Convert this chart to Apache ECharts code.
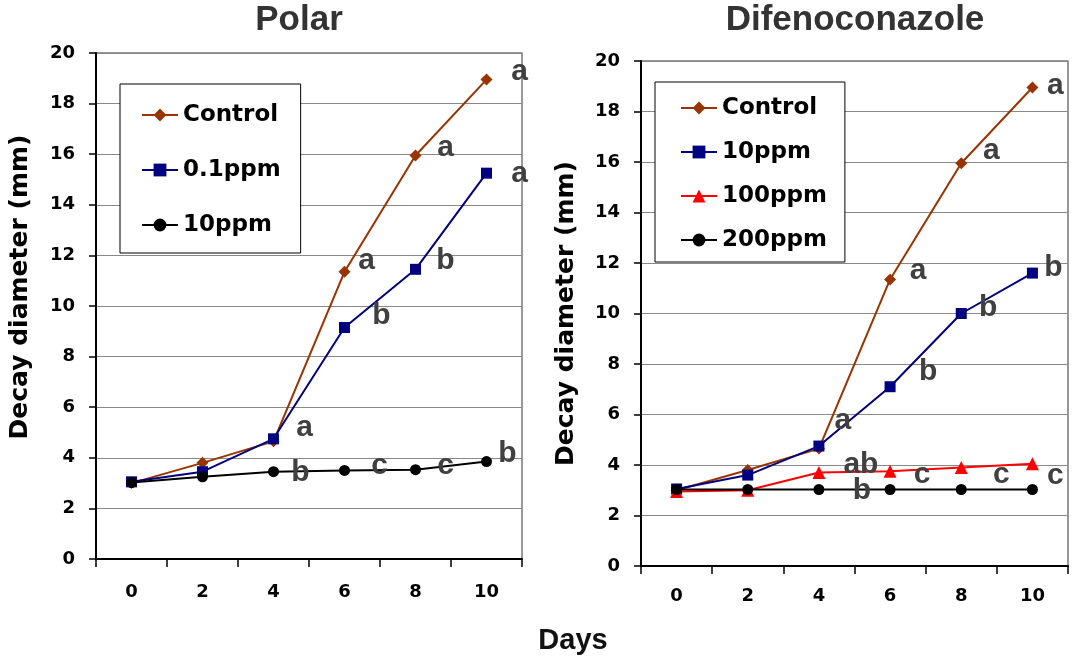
<!DOCTYPE html>
<html>
<head>
<meta charset="utf-8">
<script src="https://cdn.jsdelivr.net/npm/echarts@6/dist/echarts.min.js"></script>
<style>
  html, body { margin: 0; padding: 0; background: #fff; }
  #chart { width: 1076px; height: 661px; }
</style>
</head>
<body>
<div id="chart"></div>
<script>
// ---- data ----
var days = ['0', '2', '4', '6', '8', '10'];

var polarControl = [3.0, 3.8, 4.65, 11.35, 15.95, 18.95];
var polarLow     = [3.05, 3.45, 4.75, 9.15, 11.45, 15.25];
var polarHigh    = [3.02, 3.25, 3.45, 3.5, 3.53, 3.85];

var difControl = [3.0, 3.8, 4.65, 11.35, 15.95, 18.95];
var dif10      = [3.05, 3.6, 4.75, 7.1, 10.0, 11.6];
var dif100     = [2.95, 3.0, 3.7, 3.75, 3.9, 4.05];
var dif200     = [3.03, 3.03, 3.03, 3.03, 3.03, 3.03];

// significance letters
var polarControlSig = ['', '', 'a', 'a', 'a', 'a'];
var polarLowSig     = ['', '', '', 'b', 'b', 'a'];
var polarHighSig    = ['', '', 'b', 'c', 'c', 'b'];
var difControlSig   = ['', '', 'a', 'a', 'a', 'a'];
var dif10Sig        = ['', '', '', 'b', 'b', 'b'];
var dif100Sig       = ['', '', 'ab', 'c', 'c', 'c'];
var dif200Sig       = ['', '', 'b', '', '', ''];

// where each letter sits next to its point
var polarControlOff = [null, null, [31, -14], [22, -11], [30, -8], [33, -8]];
var polarLowOff     = [null, null, null, [37, -12], [30, -9], [33, 1]];
var polarHighOff    = [null, null, [27, 1], [35, -5], [30, -4], [21, -8]];
var difControlOff   = [null, null, [24, -28], [28, -9], [30, -13], [23, -2]];
var dif10Off        = [null, null, null, [38, -15], [27, -6], [21, -5]];
var dif100Off       = [null, null, [42, -8], [32, 3], [40, 7], [23, 12]];
var dif200Off       = [null, null, [43, 1], null, null, null];

var BOLD = '"DejaVu Sans", Verdana, sans-serif';
var ARIAL = '"Liberation Sans", Arial, sans-serif';

function pts(values, sig, off) {
  return values.map(function (v, i) {
    if (!sig[i]) return v;
    return { value: v, label: { show: true, formatter: sig[i], offset: off[i] } };
  });
}

function line(name, values, sig, off, idx, color, symbol, size) {
  return {
    name: name,
    type: 'line',
    xAxisIndex: idx,
    yAxisIndex: idx,
    data: pts(values, sig, off),
    symbol: symbol,
    symbolSize: size,
    lineStyle: { color: color, width: 2 },
    itemStyle: { color: color },
    label: {
      show: false,
      position: 'inside',
      align: 'center',
      verticalAlign: 'middle',
      color: '#404040',
      fontFamily: ARIAL,
      fontWeight: 'bold',
      fontSize: 30
    }
  };
}

function xAx(idx, margin) {
  return {
    type: 'category',
    gridIndex: idx,
    data: days,
    boundaryGap: true,
    axisLine: { lineStyle: { color: '#000', width: 2 } },
    axisTick: { show: true, interval: 0, length: 8, lineStyle: { color: '#000', width: 1.5 } },
    axisLabel: { color: '#000', fontFamily: BOLD, fontWeight: 'bold', fontSize: 18, margin: margin },
    splitLine: { show: false }
  };
}

function yAx(idx, gap, pad) {
  return {
    type: 'value',
    gridIndex: idx,
    min: 0,
    max: 20,
    interval: 2,
    name: 'Decay diameter (mm)',
    nameLocation: 'middle',
    nameGap: gap,
    nameTextStyle: { color: '#000', fontFamily: BOLD, fontWeight: 'bold', fontSize: 25, padding: pad },
    axisLine: { show: true, lineStyle: { color: '#000', width: 2 } },
    axisTick: { show: true, length: 7, lineStyle: { color: '#000', width: 1.5 } },
    axisLabel: { color: '#000', fontFamily: BOLD, fontWeight: 'bold', fontSize: 18, margin: 21 },
    splitLine: { show: true, lineStyle: { color: '#888', width: 1 } }
  };
}

var legendText = { color: '#000', fontFamily: BOLD, fontWeight: 'bold', fontSize: 23, lineHeight: 24 };

var chart = echarts.init(document.getElementById('chart'));
chart.setOption({
  animation: false,
  backgroundColor: '#fff',
  title: [
    { text: 'Polar', left: 299, top: 3, textAlign: 'center', padding: 0,
      textStyle: { color: '#333', fontFamily: ARIAL, fontWeight: 'bold', fontSize: 35 } },
    { text: 'Difenoconazole', left: 855, top: 3, textAlign: 'center', padding: 0,
      textStyle: { color: '#333', fontFamily: ARIAL, fontWeight: 'bold', fontSize: 35 } },
    { text: 'Days', left: 573, top: 626, textAlign: 'center', padding: 0,
      textStyle: { color: '#111', fontFamily: ARIAL, fontWeight: 'bold', fontSize: 29 } }
  ],
  legend: [
    {
      data: ['Control', '0.1ppm', '10ppm'],
      orient: 'vertical',
      left: 120, top: 84,
      padding: [19, 20, 16, 21],
      itemGap: 31,
      itemWidth: 36, itemHeight: 16,
      backgroundColor: '#fff',
      borderColor: '#000', borderWidth: 1, borderRadius: 0,
      textStyle: legendText
    },
    {
      data: ['Control ', '10ppm ', '100ppm', '200ppm'],
      orient: 'vertical',
      left: 655, top: 82,
      padding: [14, 18, 10, 25],
      itemGap: 20,
      itemWidth: 36, itemHeight: 16,
      backgroundColor: '#fff',
      borderColor: '#000', borderWidth: 1, borderRadius: 0,
      textStyle: legendText,
      formatter: function (n) { return n.trim(); }
    }
  ],
  grid: [
    { left: 96, top: 53, width: 426, height: 506, show: true, borderColor: '#777', borderWidth: 1.5 },
    { left: 641, top: 61, width: 427, height: 505, show: true, borderColor: '#777', borderWidth: 1.5 }
  ],
  xAxis: [xAx(0, 24), xAx(1, 21)],
  yAxis: [yAx(0, 63, [0, 0, 0, 38]), yAx(1, 62, 0)],
  series: [
    line('Control', polarControl, polarControlSig, polarControlOff, 0, '#993300', 'diamond', 12),
    line('0.1ppm', polarLow, polarLowSig, polarLowOff, 0, '#000080', 'rect', 11),
    line('10ppm', polarHigh, polarHighSig, polarHighOff, 0, '#000000', 'circle', 11),
    line('Control ', difControl, difControlSig, difControlOff, 1, '#993300', 'diamond', 12),
    line('10ppm ', dif10, dif10Sig, dif10Off, 1, '#000080', 'rect', 11),
    line('100ppm', dif100, dif100Sig, dif100Off, 1, '#ff0000', 'triangle', 13),
    line('200ppm', dif200, dif200Sig, dif200Off, 1, '#000000', 'circle', 11)
  ]
});
</script>
</body>
</html>
